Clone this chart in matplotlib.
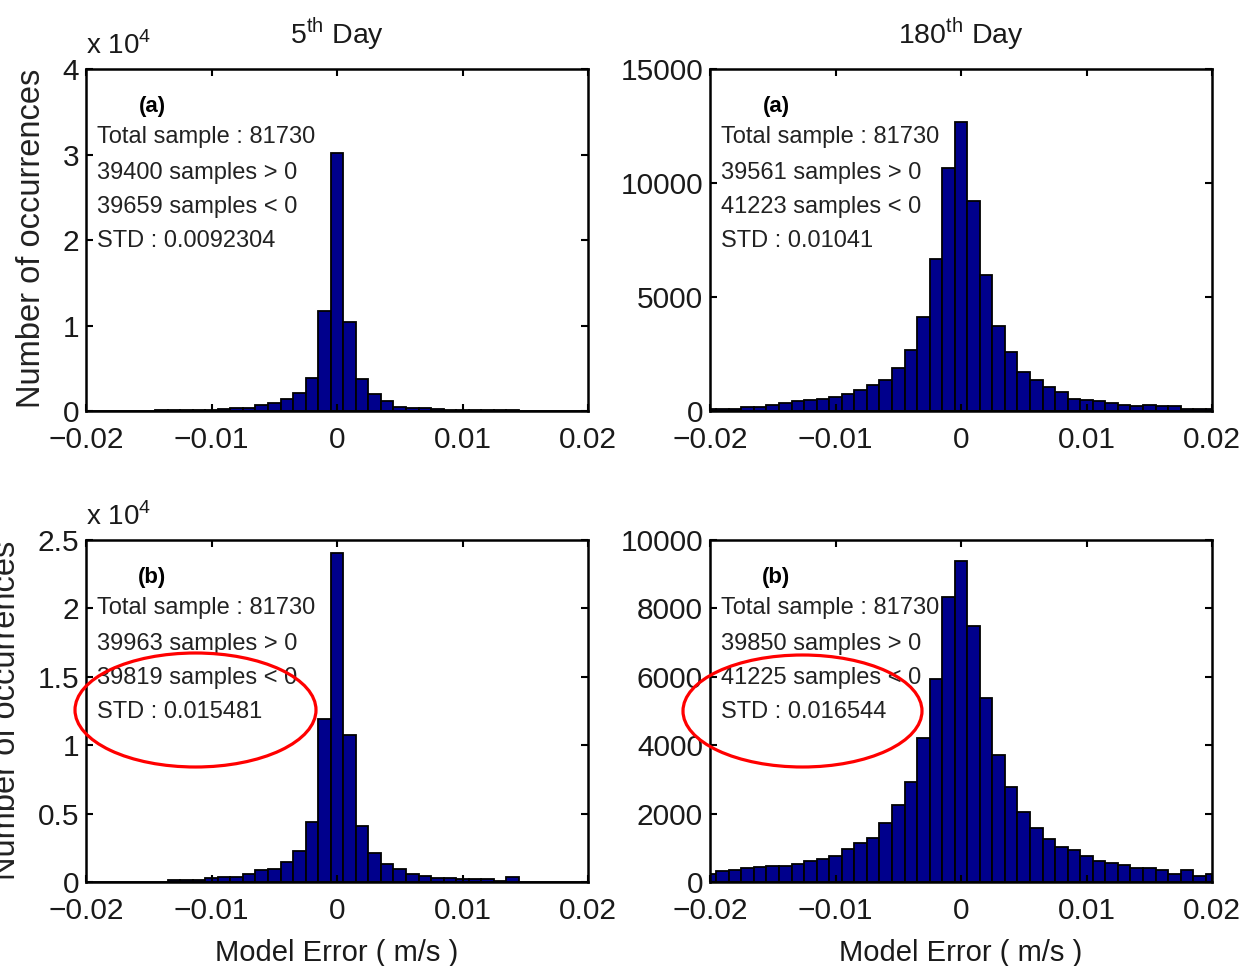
import matplotlib
matplotlib.use('Agg')
import matplotlib.pyplot as plt
import numpy as np
from matplotlib.patches import Ellipse
from matplotlib.ticker import FuncFormatter
from matplotlib.transforms import offset_copy

plt.rcParams['font.family'] = ['Liberation Sans', 'DejaVu Sans']
plt.rcParams['mathtext.fontset'] = 'custom'
plt.rcParams['mathtext.rm'] = 'Liberation Sans'
plt.rcParams['axes.unicode_minus'] = True

# bins: 0.001 wide, centred on -0.020 ... 0.020
bin_centers = np.round(np.arange(-20, 21) * 0.001, 4)

# counts
day5_a = [0, 0, 0, 0, 0, 0,
          150, 150, 150, 150, 100,
          250, 400, 400, 750, 940, 1370, 2160, 3900, 11700,
          30200,
          10400, 3700, 2040, 1140, 470, 400, 350, 200,
          100, 100, 100, 100, 100, 100,
          0, 0, 0, 0, 0, 0]
day180_a = [90, 90, 90, 175, 175, 250, 350, 420, 468, 526,
            600, 760, 906, 1126, 1373, 1886, 2690, 4110, 6667, 10660,
            12675,
            9224, 5978, 3715, 2600, 1696, 1345, 1038, 833, 540,
            500, 425, 350, 277, 200, 250, 200, 200, 90, 90, 90]
day5_b = [0, 0, 0, 0, 0, 0, 0,
          150, 150, 150, 265, 390, 390, 600, 845, 970, 1470, 2250, 4350, 11900,
          24060,
          10750, 4060, 2125, 1350, 970, 555, 435, 265, 265, 190,
          190, 190, 50, 360, 0, 0, 0, 0, 0, 0]
day180_b = [243, 310, 340, 408, 437, 456, 456, 534, 612, 660,
            748, 971, 1136, 1282, 1728, 2262, 2932, 4224, 5923, 8330,
            9400,
            7477, 5370, 3709, 2787, 2039, 1583, 1262, 1020, 922,
            748, 602, 563, 505, 408, 408, 360, 243, 360, 175, 243]

labels_a = ['Total sample : 81730', '39400 samples > 0', '39659 samples < 0', 'STD : 0.0092304']
labels_b = ['Total sample : 81730', '39561 samples > 0', '41223 samples < 0', 'STD : 0.01041']
labels_c = ['Total sample : 81730', '39963 samples > 0', '39819 samples < 0', 'STD : 0.015481']
labels_d = ['Total sample : 81730', '39850 samples > 0', '41225 samples < 0', 'STD : 0.016544']

W, H = 1251, 966
fig = plt.figure(figsize=(W / 100, H / 100), dpi=100)
fig.patch.set_facecolor('white')


def px_axes(x0, y0, x1, y1):
    return fig.add_axes([x0 / W, 1 - y1 / H, (x1 - x0) / W, (y1 - y0) / H])


ax1 = px_axes(86, 69, 588, 411)
ax2 = px_axes(710, 69, 1212, 411)
ax3 = px_axes(86, 540, 588, 882)
ax4 = px_axes(710, 540, 1212, 882)


def fmt_num(v, scale=1.0):
    s = '%g' % (v / scale)
    return s.replace('-', '\u2212')


panels = [
    (ax1, day5_a, labels_a, '(a)', 4e4, [0, 1e4, 2e4, 3e4, 4e4], 1e4),
    (ax2, day180_a, labels_b, '(a)', 15000, [0, 5000, 10000, 15000], 1),
    (ax3, day5_b, labels_c, '(b)', 2.5e4, [0, 5e3, 1e4, 1.5e4, 2e4, 2.5e4], 1e4),
    (ax4, day180_b, labels_d, '(b)', 10000, [0, 2000, 4000, 6000, 8000, 10000], 1),
]

for ax, counts, lines, tag, ymax, yticks, scale in panels:
    ax.bar(bin_centers, counts, width=0.001, color='#00008c',
           edgecolor='black', linewidth=1.3, align='center')
    ax.set_xlim(-0.02, 0.02)
    ax.set_ylim(0, ymax)
    ax.set_xticks([-0.02, -0.01, 0, 0.01, 0.02])
    ax.set_yticks(yticks)
    ax.xaxis.set_major_formatter(FuncFormatter(lambda v, p: fmt_num(v)))
    ax.yaxis.set_major_formatter(FuncFormatter(lambda v, p, s=scale: fmt_num(v, s)))
    ax.tick_params(direction='in', length=5, width=1.5, top=True, right=True,
                   labelsize=21.5, labelcolor='#1a1a1a')
    ax.tick_params(axis='x', pad=11)
    ax.tick_params(axis='y', pad=5)
    for sp in ax.spines.values():
        sp.set_linewidth(1.8)
    ax.text(0.132, 0.889, tag, transform=ax.transAxes, ha='center', va='center',
            fontsize=16, fontweight='bold')
    for txt, yy in zip(lines, [0.80, 0.697, 0.597, 0.497]):
        ax.text(0.022, yy, txt, transform=ax.transAxes, ha='left', va='center',
                fontsize=17, color='#222222')
    if scale != 1:
        tr = offset_copy(ax.transAxes, fig=fig, x=0, y=15, units='dots')
        ax.text(0.0, 1.0, r'x 10$^{4}$', transform=tr, ha='left', va='baseline',
                fontsize=20, color='#1a1a1a')

ax1.set_title(r'5$^{\mathrm{th}}$ Day', fontsize=20.5, pad=18, color='#1a1a1a')
ax2.set_title(r'180$^{\mathrm{th}}$ Day', fontsize=20.5, pad=18, color='#1a1a1a')
ax3.set_xlabel('Model Error ( m/s )', fontsize=21, labelpad=10, color='#1a1a1a')
ax4.set_xlabel('Model Error ( m/s )', fontsize=21, labelpad=10, color='#1a1a1a')

fig.text(32 / W, 1 - 238 / H, 'Number of occurrences', rotation=90,
         ha='center', va='center', fontsize=23.5, color='#222222')
fig.text(7 / W, 1 - 710 / H, 'Number of occurrences', rotation=90,
         ha='center', va='center', fontsize=23.5, color='#222222')

# red circles round the STD lines
for cx, cy, ew, eh in [(195.5, 710, 241, 114), (802.5, 711, 239, 112)]:
    e = Ellipse((cx / W, 1 - cy / H), ew / W, eh / H, transform=fig.transFigure,
                fill=False, edgecolor='#ff0000', linewidth=2.3)
    fig.add_artist(e)

fig.savefig('out.png', dpi=100)
